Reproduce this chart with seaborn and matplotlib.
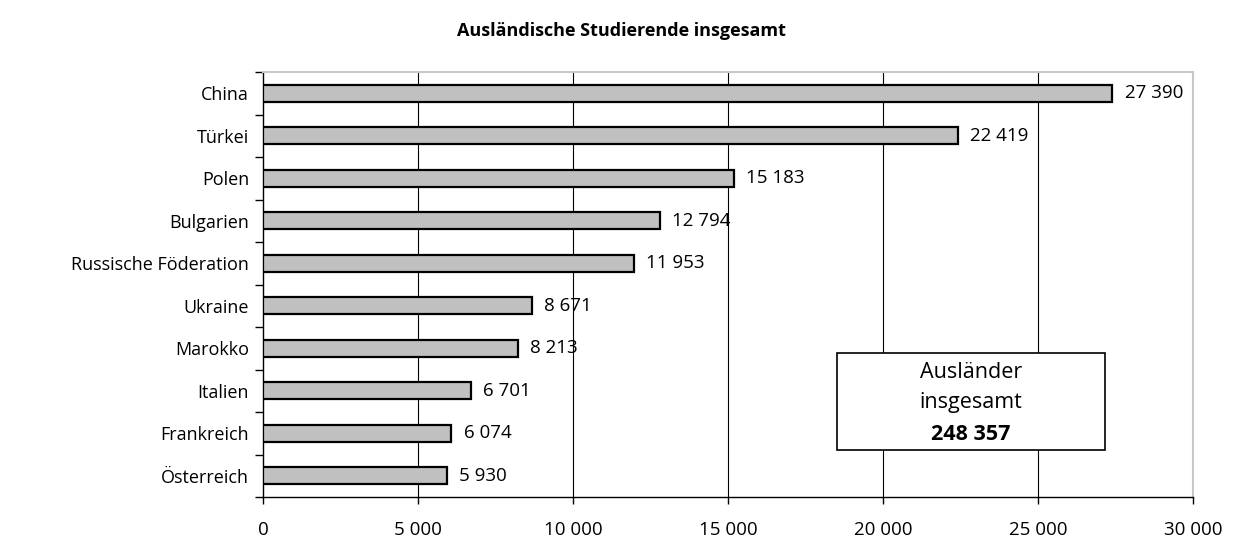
import matplotlib
matplotlib.use("Agg")
import matplotlib.pyplot as plt
import seaborn as sns
import numpy as np
import pandas as pd
from matplotlib.patches import Rectangle

# Data
countries = ["China", "Türkei", "Polen", "Bulgarien", "Russische Föderation",
             "Ukraine", "Marokko", "Italien", "Frankreich", "Österreich"]
students = [27390, 22419, 15183, 12794, 11953, 8671, 8213, 6701, 6074, 5930]
x_ticks = [0, 5000, 10000, 15000, 20000, 25000, 30000]
total_students = 248357

def fmt(v):
    return f"{v:,}".replace(",", " ")

df = pd.DataFrame({"land": countries, "anzahl": students})

sns.set_theme(style="white")
plt.rcParams['font.family'] = ['Open Sans', 'DejaVu Sans']
plt.rcParams['text.color'] = 'black'
plt.rcParams['xtick.color'] = 'black'
plt.rcParams['ytick.color'] = 'black'

fig = plt.figure(figsize=(12.36, 5.4), dpi=100)
ax = fig.add_axes([263 / 1236, 43 / 540, 930 / 1236, 425 / 540])

sns.barplot(data=df, x="anzahl", y="land", orient="h", color="#c0c0c0",
            saturation=1, edgecolor="black", linewidth=1.6, width=0.4, ax=ax, zorder=3)

ax.set_xlim(0, 30000)
ax.set_ylim(len(countries) - 0.5, -0.5)
ax.set_xticks(x_ticks)
ax.set_xticklabels([fmt(t) for t in x_ticks], fontsize=13.5)
ax.set_xlabel("")
ax.set_ylabel("")

# vertical grid lines
for t in x_ticks[1:-1]:
    ax.axvline(t, color="black", linewidth=0.8, zorder=1)

# y ticks between categories
ax.set_yticks(range(len(countries)))
ax.set_yticklabels(countries, fontsize=13)
ax.set_yticks(np.arange(-0.5, len(countries), 1), minor=True)
ax.tick_params(axis="y", which="major", length=0, pad=10)
ax.tick_params(axis="y", which="minor", length=6, width=1, color="black", left=True)
ax.tick_params(axis="x", which="major", length=5, width=1, color="black", bottom=True, pad=12)

for s in ["left", "bottom"]:
    ax.spines[s].set_color("black")
    ax.spines[s].set_linewidth(1)
for s in ["top", "right"]:
    ax.spines[s].set_color("#c8c8c8")
    ax.spines[s].set_linewidth(1.5)

# value labels
for i, v in enumerate(students):
    ax.annotate(fmt(v), (v, i), xytext=(9, 0), textcoords="offset points",
                va="center", ha="left", fontsize=13.5, zorder=4)

# total box
ax.add_patch(Rectangle((0.617, 0.11), 0.288, 0.23, transform=ax.transAxes,
                       facecolor="white", edgecolor="black", linewidth=1.2, zorder=5))
ax.text(0.761, 0.294, "Ausländer", transform=ax.transAxes, ha="center", va="center",
        fontsize=15.5, zorder=6)
ax.text(0.761, 0.222, "insgesamt", transform=ax.transAxes, ha="center", va="center",
        fontsize=15.5, zorder=6)
ax.text(0.761, 0.148, fmt(total_students), transform=ax.transAxes, ha="center", va="center",
        fontsize=15.5, fontweight="bold", zorder=6)

fig.text(0.503, 1 - 31 / 540, "Ausländische Studierende insgesamt", ha="center", va="center",
         fontsize=13, fontweight="bold")

fig.savefig("out.png", dpi=100)
